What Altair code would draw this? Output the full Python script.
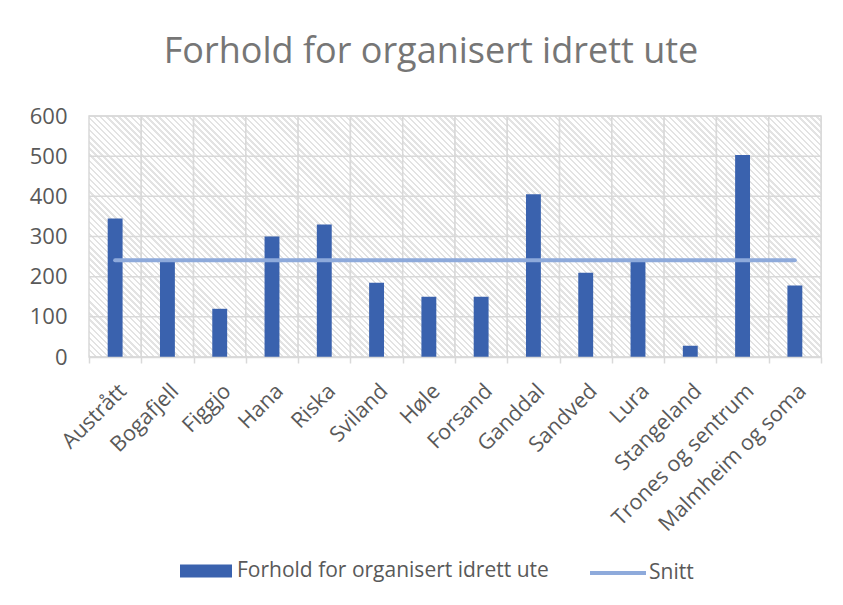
import math
import altair as alt
import pandas as pd

# ---- data ----
categories = ["Austrått", "Bogafjell", "Figgjo", "Hana", "Riska", "Sviland", "Høle",
              "Forsand", "Ganddal", "Sandved", "Lura", "Stangeland",
              "Trones og sentrum", "Malmheim og soma"]
values = [345, 237, 120, 300, 330, 185, 150, 150, 405, 210, 237, 28, 503, 178]
snitt = [241] * len(categories)
bar_series = "Forhold for organisert idrett ute"
line_series = "Snitt"
y_ticks = [0, 100, 200, 300, 400, 500, 600]

bars_df = pd.DataFrame({"omrade": categories, "verdi": values, "serie": bar_series})
line_df = pd.DataFrame({"omrade": categories, "verdi": snitt, "serie": line_series})
bg_df = pd.DataFrame({"omrade": categories})
grid_df = pd.DataFrame({"tick": y_ticks})

# ---- layout / style ----
W, H = 732, 241
FONT = "Open Sans"
LABEL = "#595959"
GRID = "#d9d9d9"

# diagonal hatch as a striped linear gradient per cell
cell_w = W / len(categories)
cell_h = H
period = 4.3
span = (cell_w + cell_h) / math.sqrt(2)
n = int(round(span / period))
frac = 0.4
stops = []
for i in range(n):
    a = i / n
    b = (i + frac) / n
    c = (i + 1) / n
    stops += [
        {"offset": a, "color": "#e3e3e3"},
        {"offset": b, "color": "#e3e3e3"},
        {"offset": b, "color": "#ffffff"},
        {"offset": c, "color": "#ffffff"},
    ]
k = (cell_w + cell_h) / (cell_w ** 2 + cell_h ** 2)
hatch = {"gradient": "linear", "x1": 0, "y1": 1,
         "x2": k * cell_w, "y2": 1 - k * cell_h, "stops": stops}

x_scale = alt.Scale(domain=categories, paddingInner=0, paddingOuter=0)
y_scale = alt.Scale(domain=[0, 600])

x_axis = alt.Axis(title=None, labelAngle=-45, labelAlign="right", labelBaseline="top",
                  labelFont=FONT, labelFontSize=21.5, labelColor=LABEL, labelPadding=17,
                  labelLimit=0, labelOverlap=False,
                  tickBand="extent", grid=False, ticks=True, tickColor=GRID,
                  tickSize=6, tickWidth=1.5, domainColor=GRID, domainWidth=1.5)
y_axis = alt.Axis(title=None, values=y_ticks, labelFont=FONT, labelFontSize=22,
                  labelColor=LABEL, labelPadding=22, ticks=False, domain=False, grid=False)

X = alt.X("omrade:N", scale=x_scale, axis=x_axis, sort=categories)

background = alt.Chart(bg_df).mark_rect(fill=hatch, stroke=GRID, strokeWidth=1.5).encode(
    x=X,
    y=alt.Y(datum=max(y_ticks), type="quantitative", scale=y_scale, axis=y_axis),
    y2=alt.Y2(datum=0),
)

grid = alt.Chart(grid_df).mark_rule(color=GRID, strokeWidth=1.5).encode(
    y=alt.Y("tick:Q", scale=y_scale, axis=y_axis)
)

bars = alt.Chart(bars_df).mark_bar(width={"band": 0.285}).encode(
    x=X,
    y=alt.Y("verdi:Q", scale=y_scale, axis=y_axis),
    color=alt.Color("serie:N",
                    scale=alt.Scale(domain=[bar_series], range=["#3a62ae"]),
                    legend=alt.Legend(orient="none", legendX=91, legendY=429, title=None,
                                      symbolType="M-1,-0.25H1V0.25H-1Z", symbolSize=2704,
                                      symbolStrokeWidth=0, symbolOpacity=1,
                                      labelFont=FONT, labelFontSize=21, labelColor=LABEL,
                                      labelOffset=5, labelLimit=0, padding=0)),
)

line = alt.Chart(line_df).mark_line(strokeWidth=4, strokeCap="round").encode(
    x=X,
    y=alt.Y("verdi:Q", scale=y_scale, axis=y_axis),
    stroke=alt.Stroke("serie:N",
                      scale=alt.Scale(domain=[line_series], range=["#8eaadb"]),
                      legend=alt.Legend(orient="none", legendX=499, legendY=427, title=None,
                                        symbolType="stroke", symbolSize=3136,
                                        symbolStrokeWidth=4,
                                        labelFont=FONT, labelFontSize=21, labelColor=LABEL,
                                        labelOffset=1, labelLimit=0, padding=0)),
)

chart = alt.layer(background, grid, bars, line).properties(
    width=W,
    height=H,
    title=alt.Title("Forhold for organisert idrett ute", font=FONT, fontSize=36,
                    fontWeight="normal", color="#767676", anchor="middle",
                    baseline="alphabetic", offset=6, dx=-24),
    padding={"left": 81, "top": 108, "right": 14, "bottom": 240},
    autosize=alt.AutoSizeParams(type="none"),
).configure_view(stroke=None).configure(background="white")

chart.save("out.html", embed_options={"renderer": "svg", "actions": False})
